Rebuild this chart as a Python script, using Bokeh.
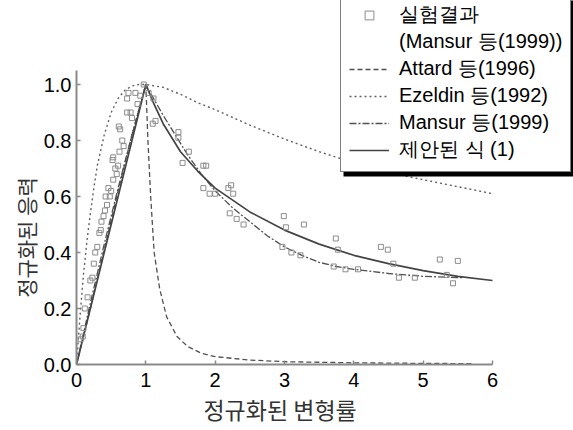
from bokeh.plotting import figure
from bokeh.models import Range1d, FixedTicker, Legend, LegendItem, BoxAnnotation, Title
from bokeh.embed import file_html
from bokeh.resources import INLINE

# ---------------- data ----------------
exp_x = [0.06, 0.09, 0.10, 0.12, 0.16, 0.20, 0.23, 0.25, 0.27, 0.30, 0.33, 0.35, 0.36, 0.39,
         0.41, 0.42, 0.44, 0.48, 0.46, 0.50, 0.53, 0.56, 0.58, 0.52, 0.53, 0.60, 0.62, 0.66,
         0.68, 0.61, 0.63, 0.73, 0.78, 0.80, 0.73, 0.75, 0.85, 0.88, 0.92, 0.97,
         1.04, 1.11, 1.14, 1.10, 1.47, 1.47, 1.62, 1.53, 1.83, 1.87, 1.83, 1.92, 2.00, 2.19,
         2.23, 2.26, 2.21, 2.31, 2.41, 2.99, 3.02, 3.28, 2.97, 3.10, 3.23, 3.74, 3.77, 3.71,
         3.88, 4.06, 4.39, 4.49, 4.57, 4.65, 4.88, 5.24, 5.50, 5.34, 5.43]
exp_y = [0.09, 0.10, 0.13, 0.20, 0.24, 0.30, 0.31, 0.36, 0.40, 0.42, 0.47, 0.48, 0.51, 0.53,
         0.55, 0.60, 0.57, 0.60, 0.63, 0.62, 0.66, 0.70, 0.68, 0.73, 0.74, 0.71, 0.76, 0.80,
         0.78, 0.85, 0.84, 0.90, 0.90, 0.88, 0.95, 0.97, 0.97, 0.93, 0.96, 1.00,
         0.97, 0.95, 0.87, 0.86, 0.83, 0.81, 0.76, 0.72, 0.71, 0.71, 0.63, 0.61, 0.61, 0.63,
         0.64, 0.61, 0.54, 0.52, 0.50, 0.53, 0.49, 0.50, 0.42, 0.40, 0.39, 0.45, 0.41, 0.35,
         0.34, 0.34, 0.42, 0.41, 0.36, 0.31, 0.31, 0.375, 0.37, 0.32, 0.29]

attard_x = [0, 0.2, 0.4, 0.6, 0.8, 1.0, 1.03, 1.07, 1.12, 1.2, 1.3, 1.45, 1.6, 1.8, 2.0,
            2.5, 3.0, 4.0, 5.0, 5.7]
attard_y = [0, 0.20, 0.41, 0.62, 0.82, 1.0, 0.80, 0.60, 0.40, 0.27, 0.17, 0.10, 0.065, 0.04,
            0.028, 0.016, 0.010, 0.006, 0.004, 0.003]

ezeldin_x = [0, 0.05, 0.1, 0.15, 0.2, 0.25, 0.3, 0.4, 0.5, 0.6, 0.7, 0.8, 0.9, 1.0, 1.25,
             1.5, 1.75, 2.0, 2.5, 3.0, 3.5, 4.0, 4.5, 5.0, 5.5, 6.0]
ezeldin_y = [0, 0.17, 0.32, 0.44, 0.54, 0.63, 0.71, 0.82, 0.90, 0.95, 0.98, 0.995, 1.0, 1.0,
             0.99, 0.965, 0.935, 0.91, 0.855, 0.805, 0.76, 0.72, 0.685, 0.66, 0.635, 0.61]

mansur_x = [0, 0.2, 0.4, 0.6, 0.8, 1.0, 1.1, 1.25, 1.4, 1.6, 1.8, 2.0, 2.25, 2.5, 2.75, 3.0,
            3.25, 3.5, 3.75, 4.0, 4.5, 5.0, 5.57]
mansur_y = [0, 0.22, 0.43, 0.63, 0.82, 1.0, 0.955, 0.89, 0.83, 0.75, 0.68, 0.62, 0.56, 0.51,
            0.46, 0.42, 0.39, 0.365, 0.35, 0.34, 0.325, 0.315, 0.31]

prop_x = [0, 1.0, 1.1, 1.25, 1.5, 1.75, 2.0, 2.5, 3.0, 3.5, 4.0, 4.5, 5.0, 5.5, 6.0]
prop_y = [0, 1.0, 0.94, 0.86, 0.76, 0.69, 0.63, 0.545, 0.48, 0.43, 0.39, 0.36, 0.335, 0.315, 0.30]

x_ticks = [0, 1, 2, 3, 4, 5, 6]
x_tick_labels = ["0", "1", "2", "3", "4", "5", "6"]
y_ticks = [0.0, 0.2, 0.4, 0.6, 0.8, 1.0]
y_tick_labels = ["0.0", "0.2", "0.4", "0.6", "0.8", "1.0"]

legend_labels = ["실험결과", "(Mansur 등(1999))", "Attard 등(1996)", "Ezeldin 등(1992)",
                 "Mansur 등(1999)", "제안된 식 (1)"]
x_title = "정규화된 변형률"
y_title = "정규화된 응력"

# ---------------- layout ----------------
W, H = 573, 430
FL, FB = 76, 66                 # frame left / bottom border
PX_X0, PX_X6 = 76, 492          # pixel of x=0 and x=6
PX_Y0, PX_Y1 = 364, 84          # pixel of y=0 and y=1
X_END = 6.0 * (W - FL) / (PX_X6 - PX_X0)
Y_END = 1.0 * (H - FB) / (PX_Y0 - PX_Y1)

p = figure(width=W, height=H, x_range=Range1d(0, X_END), y_range=Range1d(0, Y_END),
           output_backend="svg", toolbar_location=None,
           min_border_left=FL, min_border_bottom=FB, min_border_top=0, min_border_right=0)
p.outline_line_color = None
p.grid.visible = False
p.background_fill_color = "white"
p.border_fill_color = "white"

NUM_FONT = "Liberation Sans"
KR_FONT = "Noto Sans CJK KR"
X_TITLE_SIZE = 23
Y_TITLE_SIZE = 21

for ax, ticks, labels, bounds in ((p.xaxis[0], x_ticks, x_tick_labels, (0, 6)),
                                  (p.yaxis[0], y_ticks, y_tick_labels, (0, 1.05))):
    ax.bounds = bounds
    ax.ticker = FixedTicker(ticks=ticks)
    ax.major_label_overrides = {t: l for t, l in zip(ticks, labels)}
    ax.minor_tick_line_color = None
    ax.major_tick_in = 4
    ax.major_tick_out = 0
    ax.axis_line_color = "#8a8a8a"
    ax.axis_line_width = 2
    ax.major_tick_line_color = "#8a8a8a"
    ax.major_tick_line_width = 1.5
    ax.major_label_text_font = NUM_FONT
    ax.major_label_text_font_size = "20px"
    ax.major_label_text_color = "black"

p.xaxis.major_label_standoff = 8
p.yaxis.major_label_standoff = 5


def text_width(s, size):
    # Hangul glyphs are one em wide in Noto Sans CJK, a space about 0.224 em
    return (len(s.replace(" ", "")) + 0.224 * s.count(" ")) * size


# axis titles, centred where the reference puts them
x_center_px = 286
y_center_px = 232
xt = Title(text=x_title, align="left",
           offset=x_center_px - FL - text_width(x_title, X_TITLE_SIZE) / 2,
           text_font=KR_FONT, text_font_size=f"{X_TITLE_SIZE}px", text_font_style="normal",
           text_color="#333333", standoff=0)
yt = Title(text=y_title, align="left",
           offset=(PX_Y0 - y_center_px) - text_width(y_title, Y_TITLE_SIZE) / 2,
           text_font=KR_FONT, text_font_size=f"{Y_TITLE_SIZE}px", text_font_style="normal",
           text_color="#333333", standoff=0)
p.add_layout(xt, "below")
p.add_layout(yt, "left")

# ---------------- data marks ----------------
r_att = p.line(attard_x, attard_y, line_color="#505050", line_width=1.3, line_dash="5 3")
r_eze = p.line(ezeldin_x, ezeldin_y, line_color="#606060", line_width=1.4, line_dash="2 3")
r_man = p.line(mansur_x, mansur_y, line_color="#505050", line_width=1.3, line_dash="7 2 2 2")
r_pro = p.line(prop_x, prop_y, line_color="#444444", line_width=1.7)
r_exp = p.scatter(exp_x, exp_y, marker="square", size=5, line_color="#8c8c8c",
                  line_width=1, fill_color=None)
r_blank = p.line([], [], line_alpha=0)

# ---------------- legend with drop shadow ----------------
LEG_L, LEG_B = 340, 172
shadow = BoxAnnotation(left=LEG_L + 3, right=W + 20, top=-10, bottom=LEG_B + 4,
                       left_units="canvas", right_units="canvas",
                       top_units="canvas", bottom_units="canvas",
                       fill_color="black", fill_alpha=1, line_color=None)
p.add_layout(shadow)

legend = Legend(items=[LegendItem(label=legend_labels[0], renderers=[r_exp]),
                       LegendItem(label=legend_labels[1], renderers=[r_blank]),
                       LegendItem(label=legend_labels[2], renderers=[r_att]),
                       LegendItem(label=legend_labels[3], renderers=[r_eze]),
                       LegendItem(label=legend_labels[4], renderers=[r_man]),
                       LegendItem(label=legend_labels[5], renderers=[r_pro])],
                location=(LEG_L - FL, (H - FB) - LEG_B), margin=0, padding=8, spacing=0,
                glyph_width=40, glyph_height=22, label_height=22, label_standoff=10,
                label_text_font=NUM_FONT, label_text_font_size="20px",
                label_text_line_height=1.0,
                label_text_color="black",
                border_line_color="black", border_line_width=1,
                background_fill_color="white", background_fill_alpha=1)
p.add_layout(legend)

open("out.html", "w").write(file_html(p, INLINE))
